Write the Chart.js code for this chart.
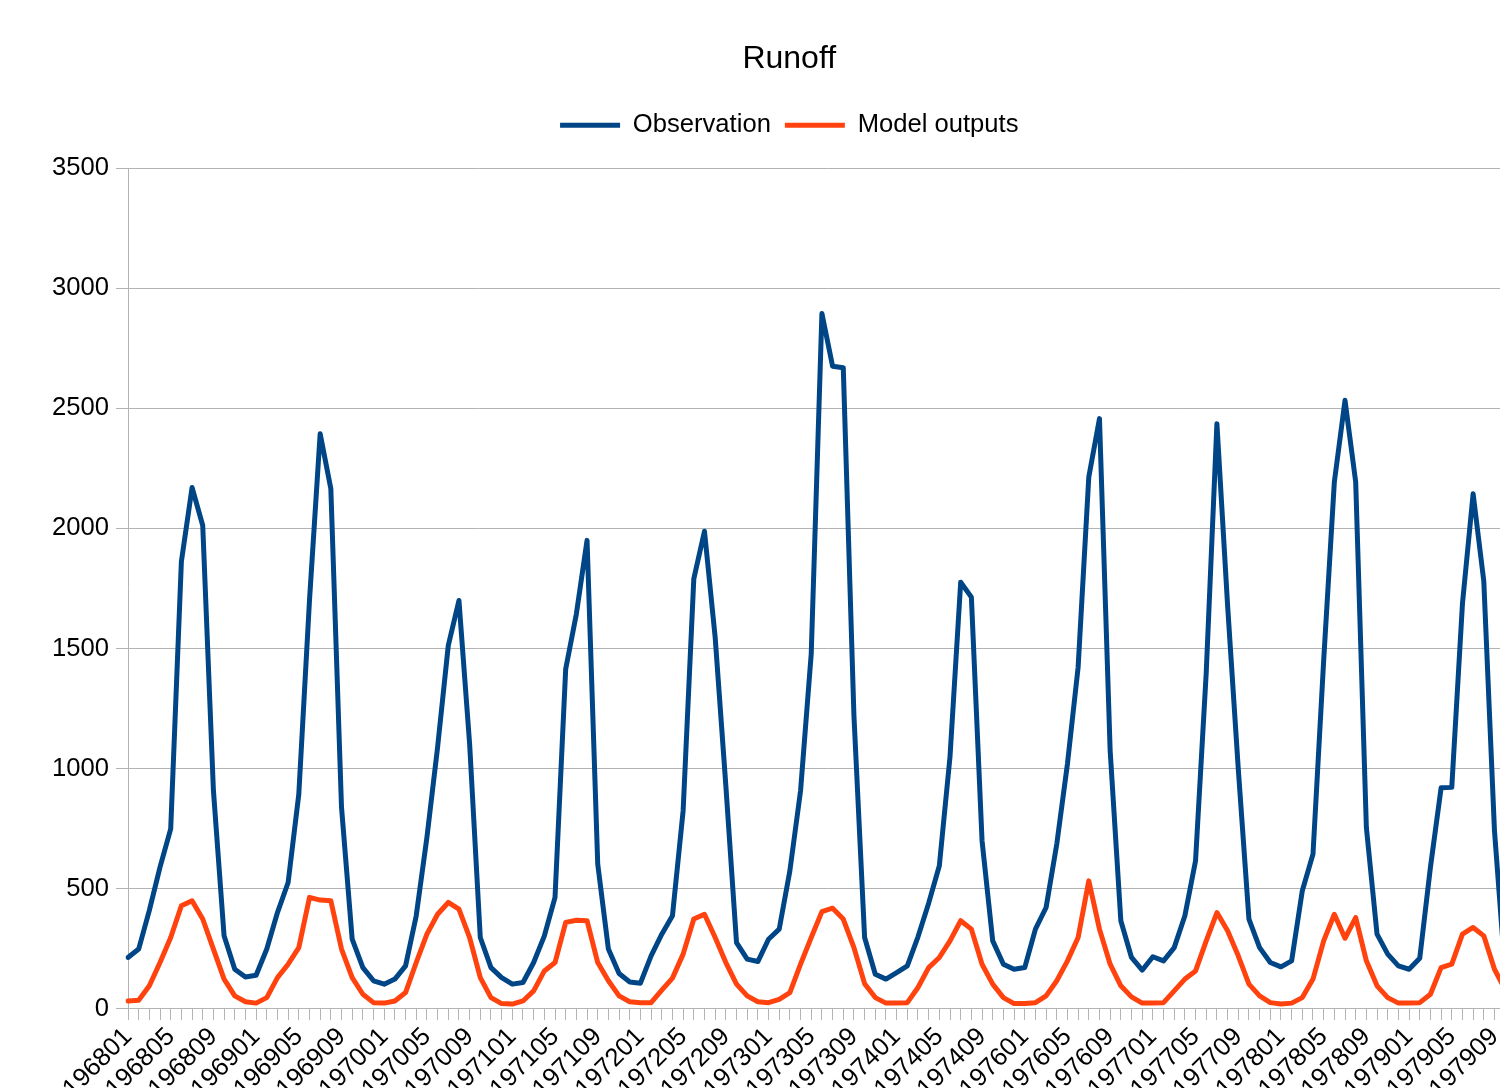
<!DOCTYPE html>
<html>
<head>
<meta charset="utf-8">
<script src="https://cdn.jsdelivr.net/npm/chart.js@4/dist/chart.umd.min.js"></script>
<style>
  html, body { margin: 0; padding: 0; background: #ffffff; overflow: hidden; }
  #clip { width: 1500px; height: 1088px; overflow: hidden; position: relative; }
  #c { position: absolute; left: 0; top: 0; }
</style>
</head>
<body>
<div id="clip"><canvas id="c" width="1600" height="1106" style="width:1600px;height:1106px"></canvas></div>
<script>
const years = ['1968','1969','1970','1971','1972','1973','1974','1976','1977','1978','1979'];
const months = ['01','02','03','04','05','06','07','08','09','10','11','12'];
const categories = [];
years.forEach(y => months.forEach(m => categories.push(y + m)));

// 197911 and 197912 lie outside the visible picture: left empty (null).
const observation = [
  214, 249, 410, 590, 749, 1862, 2170, 2012, 910, 304, 165, 133,
  140, 249, 401, 526, 894, 1700, 2394, 2165, 839, 290, 172, 117,
  103, 124, 179, 388, 714, 1089, 1512, 1700, 1103, 297, 172, 130,
  103, 110, 193, 304, 464, 1415, 1644, 1950, 603, 249, 147, 112,
  107, 221, 311, 388, 825, 1790, 1988, 1547, 930, 276, 207, 197,
  290, 332, 575, 908, 1478, 2894, 2675, 2669, 1220, 297, 144, 124,
  151, 179, 300, 440, 596, 1050, 1776, 1714, 700, 283, 186, 165,
  172, 332, 422, 686, 1020, 1422, 2214, 2457, 1075, 367, 214, 161,
  217, 200, 255, 388, 617, 1400, 2436, 1680, 1000, 374, 255, 193,
  175, 200, 492, 644, 1450, 2193, 2533, 2193, 755, 311, 228, 179,
  165, 211, 589, 920, 922, 1686, 2144, 1780, 742, 150, null, null
];

const modelOutputs = [
  33, 36, 96, 193, 297, 429, 450, 374, 249, 124, 54, 30,
  24, 47, 130, 186, 255, 464, 453, 450, 249, 130, 61, 26,
  24, 33, 68, 193, 311, 394, 443, 415, 297, 130, 47, 22,
  20, 33, 75, 158, 193, 360, 369, 367, 193, 117, 54, 30,
  26, 26, 78, 128, 228, 374, 394, 297, 193, 103, 54, 30,
  26, 40, 68, 186, 297, 405, 419, 374, 255, 105, 47, 24,
  24, 26, 89, 172, 214, 283, 367, 332, 186, 103, 47, 22,
  22, 26, 54, 117, 200, 297, 533, 332, 186, 96, 50, 24,
  24, 26, 75, 124, 158, 283, 401, 325, 221, 103, 54, 26,
  20, 24, 47, 124, 283, 394, 294, 380, 200, 96, 47, 24,
  24, 26, 61, 172, 186, 311, 339, 304, 165, 80, null, null
];

const yTicks = [0, 500, 1000, 1500, 2000, 2500, 3000, 3500];
const seriesNames = ['Observation', 'Model outputs'];
const seriesColors = ['#004586', '#ff420e'];

const FONT = '"Liberation Sans", Arial, sans-serif';
const GRID = '#b3b3b3';

const legendSpacer = {
  id: 'legendSpacer',
  beforeInit(chart) {
    const origFit = chart.legend.fit;
    chart.legend.fit = function () {
      origFit.call(this);
      this.height += 20;
    };
  }
};

new Chart(document.getElementById('c'), {
  type: 'line',
  data: {
    labels: categories,
    datasets: [
      {
        label: seriesNames[0],
        data: observation,
        borderColor: seriesColors[0],
        backgroundColor: seriesColors[0],
        borderWidth: 5,
        pointRadius: 0,
        tension: 0,
        borderJoinStyle: 'round',
        borderCapStyle: 'round',
        fill: false
      },
      {
        label: seriesNames[1],
        data: modelOutputs,
        borderColor: seriesColors[1],
        backgroundColor: seriesColors[1],
        borderWidth: 5,
        pointRadius: 0,
        tension: 0,
        borderJoinStyle: 'round',
        borderCapStyle: 'round',
        fill: false
      }
    ]
  },
  options: {
    responsive: false,
    animation: false,
    devicePixelRatio: 1,
    layout: { padding: { left: 52, right: 73.5, top: 0, bottom: 0 } },
    plugins: {
      tooltip: { enabled: false },
      title: {
        display: true,
        text: 'Runoff',
        color: '#000000',
        font: { family: FONT, size: 32, weight: 'normal', lineHeight: 1.2 },
        padding: { top: 40, bottom: 20 }
      },
      legend: {
        display: true,
        position: 'top',
        labels: {
          color: '#000000',
          font: { family: FONT, size: 25.6 },
          boxWidth: 60,
          boxHeight: 5,
          padding: 14,
          generateLabels(chart) {
            return Chart.defaults.plugins.legend.labels.generateLabels(chart)
              .map(l => Object.assign({}, l, { lineWidth: 0 }));
          }
        }
      }
    },
    scales: {
      x: {
        type: 'category',
        offset: false,
        grid: {
          display: true,
          drawOnChartArea: false,
          drawTicks: true,
          tickLength: 11,
          color: GRID,
          lineWidth: 1
        },
        border: { display: true, color: GRID, width: 1 },
        ticks: {
          autoSkip: false,
          maxRotation: 45,
          minRotation: 45,
          padding: 2,
          color: '#000000',
          font: { family: FONT, size: 25.6 },
          callback: function (value, index) {
            return index % 4 === 0 ? categories[index] : '';
          }
        }
      },
      y: {
        min: yTicks[0],
        max: yTicks[yTicks.length - 1],
        afterBuildTicks(axis) {
          axis.ticks = yTicks.map(v => ({ value: v }));
        },
        afterFit(axis) {
          axis.width = 76;
        },
        grid: {
          display: true,
          drawOnChartArea: true,
          drawTicks: true,
          tickLength: 12,
          color: GRID,
          lineWidth: 1
        },
        border: { display: true, color: GRID, width: 1 },
        ticks: {
          padding: 7,
          color: '#000000',
          font: { family: FONT, size: 25.6 },
          callback: function (value) {
            return String(value);
          }
        }
      }
    }
  },
  plugins: [legendSpacer]
});
</script>
</body>
</html>
